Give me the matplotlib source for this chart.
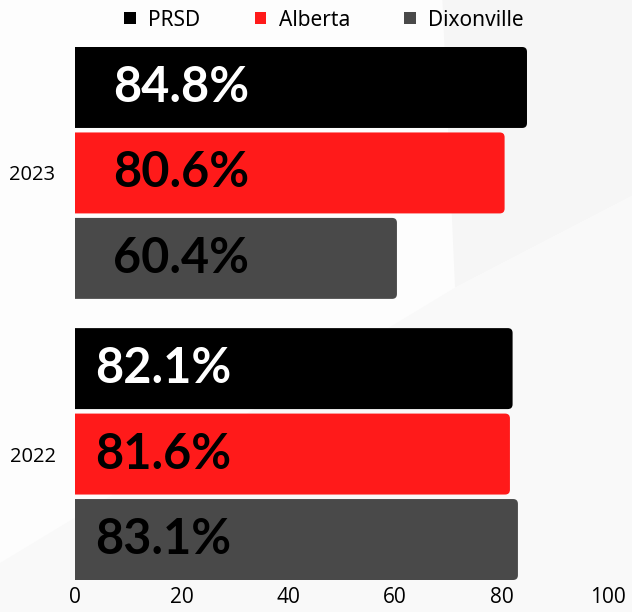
import matplotlib.pyplot as plt
from matplotlib.patches import FancyBboxPatch, Polygon, Patch

# 데이터
years = ['2022', '2023']
groups = ['PRSD', 'Alberta', 'Dixonville']
values = {
    'PRSD':       [82.1, 84.8],
    'Alberta':    [81.6, 80.6],
    'Dixonville': [83.1, 60.4],
}
colors = {'PRSD': '#000000', 'Alberta': '#ff1a1a', 'Dixonville': '#494949'}
text_colors = {'PRSD': 'white', 'Alberta': 'black', 'Dixonville': 'black'}
label_x = [3.8, 7.1]  # 연도별 라벨 시작 위치

fig = plt.figure(figsize=(6.32, 6.12), dpi=100)
fig.patch.set_facecolor('#fdfdfd')

# 배경 도형 (아주 연한 회색)
fig.add_artist(Polygon([(0.70, 1.0), (1.0, 1.0), (1.0, 0.68), (0.72, 0.53)],
                       closed=True, transform=fig.transFigure,
                       facecolor='#f6f6f6', edgecolor='none', zorder=0))
fig.add_artist(Polygon([(0.0, 0.0), (1.0, 0.0), (1.0, 0.68), (0.72, 0.53), (0.0, 0.08)],
                       closed=True, transform=fig.transFigure,
                       facecolor='#f9f9f9', edgecolor='none', zorder=0))

ax = fig.add_axes([75 / 632, 1 - 580 / 612, 533 / 632, 533 / 612])
ax.set_facecolor('none')

h = 0.288
pitch = 0.304
offsets = {'PRSD': pitch, 'Alberta': 0.0, 'Dixonville': -pitch}

# 막대 그리기 (오른쪽 모서리만 둥글게)
aspect = (1.896 / 533) / (100 / 533)
for g in groups:
    ypos = [i + offsets[g] for i in range(len(years))]
    bars = ax.barh(ypos, values[g], height=h, color=colors[g], label=g)
    for bar, v, lx in zip(bars, values[g], label_x):
        x0, y0 = bar.get_x(), bar.get_y()
        w, bh = bar.get_width(), bar.get_height()
        bar.set_visible(False)
        rp = FancyBboxPatch((x0 - 2, y0), w + 2, bh,
                            boxstyle='round,pad=0,rounding_size=0.9',
                            mutation_aspect=aspect,
                            facecolor=colors[g], edgecolor='none', zorder=2)
        ax.add_patch(rp)
        ax.text(lx, y0 + bh / 2, f'{v}%', color=text_colors[g],
                fontsize=35, fontweight='bold', family='Lato',
                va='center', ha='left', zorder=3)

ax.set_xlim(0, 100)
ax.set_ylim(-0.448, 1.448)
ax.set_xticks([0, 20, 40, 60, 80, 100])
ax.set_yticks(range(len(years)))
ax.set_yticklabels(years, fontsize=14.5, family='Open Sans')
ax.tick_params(axis='x', labelsize=15, length=0, pad=5)
ax.tick_params(axis='y', length=0, pad=14)
for lbl in ax.get_xticklabels():
    lbl.set_family('Open Sans')
for s in ax.spines.values():
    s.set_visible(False)

# 범례 (상단)
leg_handles = [Patch(facecolor=colors[g], label=g) for g in groups]
fig.legend(handles=leg_handles, loc='center', ncol=3, frameon=False,
           bbox_to_anchor=(324 / 632, 1 - 20 / 612),
           handlelength=0.55, handleheight=0.55, handletextpad=0.6,
           columnspacing=2.6, prop={'family': 'Noto Sans', 'size': 15})

fig.savefig('out.png', dpi=100, facecolor=fig.get_facecolor())
